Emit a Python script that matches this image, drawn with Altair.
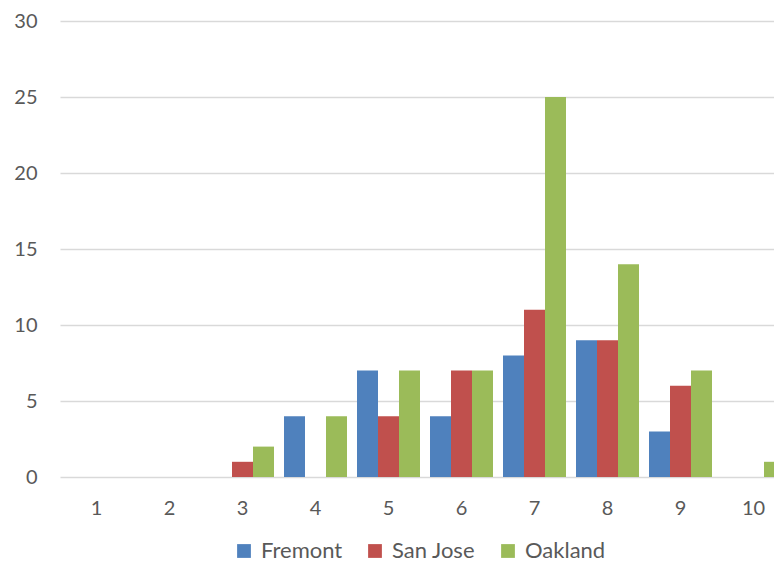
import altair as alt
import pandas as pd

categories = [str(i) for i in range(1, 11)]
fremont = [0, 0, 0, 4, 7, 4, 8, 9, 3, 0]
san_jose = [0, 0, 1, 0, 4, 7, 11, 9, 6, 0]
oakland = [0, 0, 2, 4, 7, 7, 25, 14, 7, 1]
series = ["Fremont", "San Jose", "Oakland"]
colors = ["#4F81BD", "#C0504D", "#9BBB59"]

rows = []
for name, vals in zip(series, [fremont, san_jose, oakland]):
    for c, v in zip(categories, vals):
        rows.append({"cat": c, "city": name, "value": v})
df = pd.DataFrame(rows)

FONT = "Lato"
TXT = "#595959"

chart = alt.Chart(df).mark_bar(clip=True).encode(
    x=alt.X("cat:N", sort=categories, title=None,
            scale=alt.Scale(range=[0, 730], paddingInner=0.137, paddingOuter=0.0685),
            axis=alt.Axis(labelAngle=0, ticks=False, domain=False, grid=False,
                          labelPadding=21, labelFontSize=20, labelColor=TXT, labelFont=FONT)),
    xOffset=alt.XOffset("city:N", sort=series,
                        scale=alt.Scale(paddingInner=0, paddingOuter=0)),
    y=alt.Y("value:Q", title=None,
            scale=alt.Scale(domain=[0, 30], nice=False),
            axis=alt.Axis(values=[0, 5, 10, 15, 20, 25, 30], ticks=False, domain=False,
                          grid=True, gridColor="#d9d9d9", gridWidth=1.5,
                          labelPadding=23, labelFontSize=20, labelColor=TXT, labelFont=FONT)),
    color=alt.Color("city:N", sort=series, title=None,
                    scale=alt.Scale(domain=series, range=colors),
                    legend=alt.Legend(orient="none", direction="horizontal",
                                      legendX=173, legendY=519, padding=0,
                                      symbolType="square", symbolSize=190,
                                      symbolStrokeWidth=0, labelOffset=6,
                                      columnPadding=21, labelFontSize=22,
                                      labelColor=TXT, labelFont=FONT)),
).properties(
    width=714, height=456,
    autosize=alt.AutoSizeParams(type="none"),
    padding={"left": 52, "top": 13, "right": 0, "bottom": 89},
).configure_view(stroke=None)

chart.save("out.html", embed_options={"renderer": "svg", "actions": False})
